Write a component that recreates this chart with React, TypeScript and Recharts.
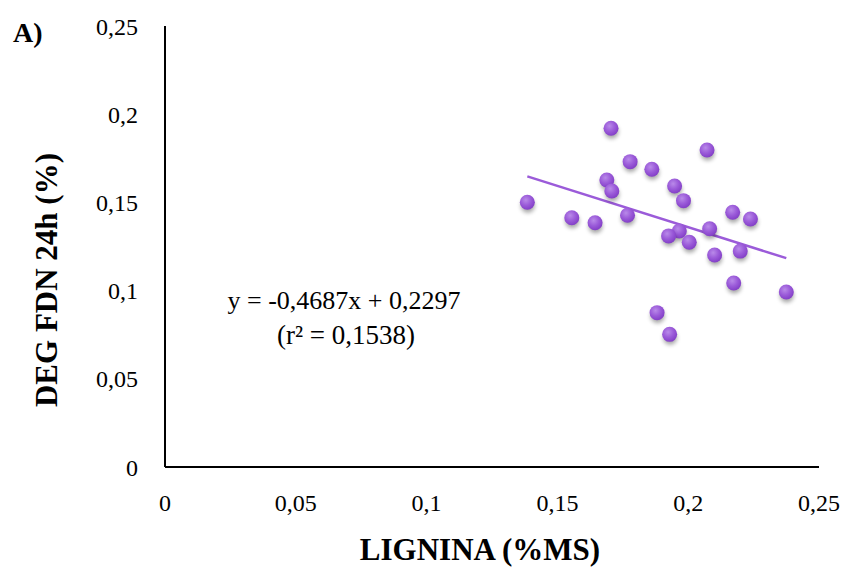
import React from 'react';
import { ScatterChart, Scatter, XAxis, YAxis, Label } from 'recharts';

const ligninaValues = [0.1705, 0.2072, 0.1778, 0.1861, 0.1689, 0.1708, 0.1948, 0.1385, 0.1982, 0.1555, 0.1644, 0.1768, 0.217, 0.2238, 0.1966, 0.1925, 0.2082, 0.2004, 0.2101, 0.2199, 0.2174, 0.2375, 0.1881, 0.1929];
const degValues = [0.192, 0.1797, 0.1731, 0.1688, 0.1627, 0.1565, 0.1593, 0.1501, 0.151, 0.1413, 0.1385, 0.1427, 0.1444, 0.1406, 0.1338, 0.131, 0.1351, 0.1274, 0.1202, 0.1224, 0.1043, 0.0992, 0.0875, 0.0752];
const axisTicks = [0, 0.05, 0.1, 0.15, 0.2, 0.25];
const trendSlope = -0.4687;
const trendIntercept = 0.2297;
const equationLines = ['y = -0,4687x + 0,2297', '(r² = 0,1538)'];

const points = ligninaValues.map((x, i) => ({ x, y: degValues[i] }));
const xMin = Math.min(...ligninaValues);
const xMax = Math.max(...ligninaValues);
const trendData = [
  { x: xMin, y: trendSlope * xMin + trendIntercept },
  { x: xMax, y: trendSlope * xMax + trendIntercept },
];

const FONT = '"Liberation Serif", "Times New Roman", serif';
const PURPLE = '#9b5bd9';
const fmt = (v: number) => String(v).replace('.', ',');

const Dot = (props: any) => {
  const { cx, cy } = props;
  if (cx == null || cy == null) return <g />;
  return (
    <g>
      <circle cx={cx + 0.5} cy={cy + 3.5} r={7} fill="#000" opacity={0.35} filter="url(#dotBlur)" />
      <circle cx={cx} cy={cy} r={7.5} fill="url(#dotGrad)" />
    </g>
  );
};

const XTick = (props: any) => {
  const { x, y, payload } = props;
  return (
    <text x={x} y={y + 44} textAnchor="middle" fontFamily={FONT} fontSize={24} fill="#000">
      {fmt(payload.value)}
    </text>
  );
};

const YTick = (props: any) => {
  const { x, y, payload } = props;
  return (
    <text x={x - 27} y={y + 8.5} textAnchor="end" fontFamily={FONT} fontSize={24} fill="#000">
      {fmt(payload.value)}
    </text>
  );
};

export default function App() {
  return (
    <div style={{ position: 'absolute', left: 0, top: 0, width: 846, height: 567, background: '#fff' }}>
      <svg width={0} height={0} style={{ position: 'absolute' }}>
        <defs>
          <radialGradient id="dotGrad" cx="40%" cy="35%" r="65%">
            <stop offset="0%" stopColor="#b98ae9" />
            <stop offset="55%" stopColor="#9b5bd9" />
            <stop offset="100%" stopColor="#8440c8" />
          </radialGradient>
          <filter id="dotBlur" x="-50%" y="-50%" width="200%" height="200%">
            <feGaussianBlur stdDeviation="2" />
          </filter>
        </defs>
      </svg>
      <ScatterChart width={846} height={567} margin={{ top: 26, right: 27, left: 0, bottom: 0 }}>
        <XAxis
          type="number"
          dataKey="x"
          domain={[0, 0.25]}
          ticks={axisTicks}
          interval={0}
          height={100}
          axisLine={{ stroke: '#000', strokeWidth: 2 }}
          tickLine={false}
          tickSize={0}
          tickMargin={0}
          tick={<XTick />}
        >
          <Label
            content={() => (
              <text x={480} y={560} textAnchor="middle" fontFamily={FONT} fontSize={31} fontWeight="bold" fill="#000">
                LIGNINA (%MS)
              </text>
            )}
          />
        </XAxis>
        <YAxis
          type="number"
          dataKey="y"
          domain={[0, 0.25]}
          ticks={axisTicks}
          interval={0}
          width={165}
          axisLine={{ stroke: '#000', strokeWidth: 2 }}
          tickLine={false}
          tickSize={0}
          tickMargin={0}
          tick={<YTick />}
        >
          <Label
            content={() => (
              <g>
                <text
                  x={57}
                  y={280}
                  transform="rotate(-90, 57, 280)"
                  textAnchor="middle"
                  fontFamily={FONT}
                  fontSize={31}
                  fontWeight="bold"
                  fill="#000"
                >
                  DEG FDN 24h (%)
                </text>
                <text x={13} y={42} fontFamily={FONT} fontSize={28} fontWeight="bold" fill="#000">
                  A)
                </text>
                <text x={344} y={309} textAnchor="middle" fontFamily={FONT} fontSize={26} fill="#000">
                  {equationLines[0]}
                </text>
                <text x={346} y={344} textAnchor="middle" fontFamily={FONT} fontSize={27} fill="#000">
                  {equationLines[1]}
                </text>
              </g>
            )}
          />
        </YAxis>
        <Scatter
          data={trendData}
          line={{ stroke: PURPLE, strokeWidth: 2.5 }}
          shape={() => <g />}
          isAnimationActive={false}
          legendType="none"
        />
        <Scatter data={points} shape={Dot} isAnimationActive={false} />
      </ScatterChart>
    </div>
  );
}
